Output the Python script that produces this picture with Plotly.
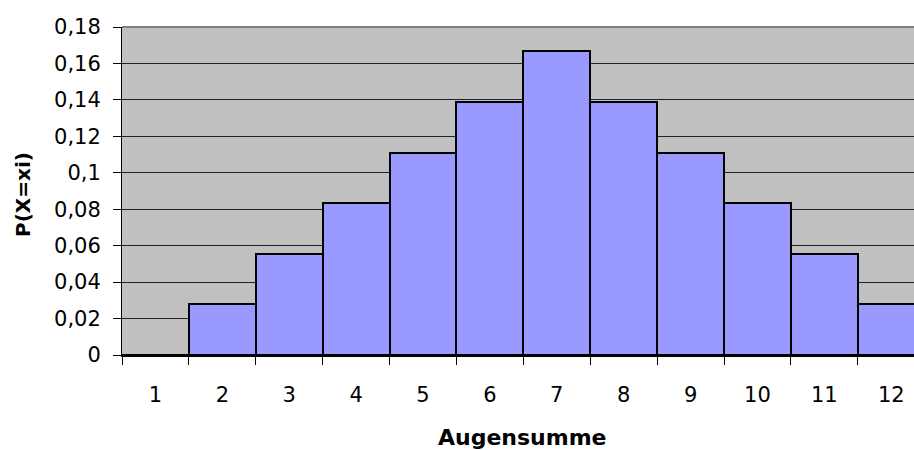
import plotly.graph_objects as go

categories = ["1", "2", "3", "4", "5", "6", "7", "8", "9", "10", "11", "12"]
probabilities = [0.0, 0.0278, 0.0556, 0.0833, 0.1111, 0.1389, 0.1667,
                 0.1389, 0.1111, 0.0833, 0.0556, 0.0278]
y_tick_values = [0, 0.02, 0.04, 0.06, 0.08, 0.10, 0.12, 0.14, 0.16, 0.18]
y_tick_labels = ["0", "0,02", "0,04", "0,06", "0,08", "0,1", "0,12", "0,14", "0,16", "0,18"]
x_title = "Augensumme"
y_title = "P(X=xi)"

FONT = "DejaVu Sans, Arial, sans-serif"

fig = go.Figure(go.Bar(
    x=categories, y=probabilities,
    marker=dict(color="#9999FF", line=dict(color="black", width=2)),
))

fig.update_layout(
    width=914, height=450,
    margin=dict(l=122, r=0, t=27, b=95),
    paper_bgcolor="white", plot_bgcolor="#C0C0C0",
    bargap=0, showlegend=False,
    font=dict(family=FONT, size=21, color="black"),
    xaxis=dict(type="category", range=[-0.5, 11.34], tickson="boundaries",
               ticks="outside", ticklen=8, tickwidth=1, tickcolor="black",
               showline=True, linecolor="black", linewidth=2, showgrid=False,
               tickfont=dict(size=21), ticklabelstandoff=20, fixedrange=True),
    yaxis=dict(range=[0, 0.18], tickvals=y_tick_values, ticktext=y_tick_labels,
               ticks="outside", ticklen=8, tickwidth=1, tickcolor="black",
               showline=True, linecolor="black", linewidth=1,
               showgrid=True, gridcolor="#222222", gridwidth=1,
               zeroline=False, tickfont=dict(size=21), ticklabelstandoff=8,
               fixedrange=True),
    shapes=[dict(type="line", xref="paper", yref="paper", x0=0, x1=1, y0=1, y1=1,
                 line=dict(color="#808080", width=2), layer="above")],
    annotations=[
        dict(text=f"<b>{x_title}</b>", xref="paper", yref="paper", x=(522 - 122) / 792,
             y=0, yshift=-82, xanchor="center", yanchor="middle", showarrow=False,
             font=dict(size=22)),
        dict(text=f"<b>{y_title}</b>", xref="paper", yref="paper", x=0, xshift=-99,
             y=0.5, yshift=-4, xanchor="center", yanchor="middle", textangle=-90,
             showarrow=False, font=dict(size=20)),
    ],
)

fig.write_html(
    "out.html",
    config={"displayModeBar": False},
    post_script="document.body.style.margin='0';document.body.style.overflow='hidden';",
)
